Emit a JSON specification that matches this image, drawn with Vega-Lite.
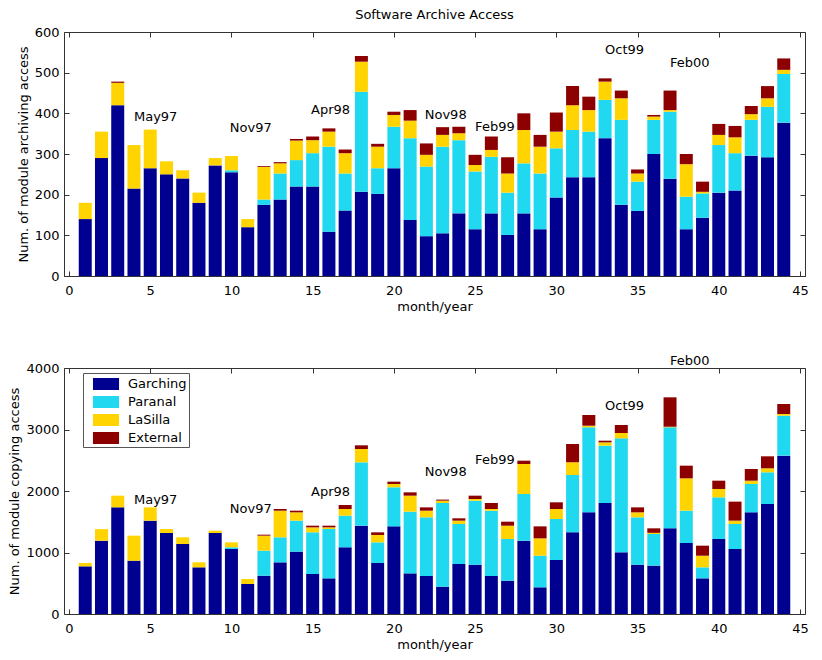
{
  "$schema": "https://vega.github.io/schema/vega-lite/v6.json",
  "padding": {"left": 8, "top": 8, "right": 10, "bottom": 5},
  "background": "white",
  "config": {
    "font": "DejaVu Sans",
    "view": {"stroke": "#333", "strokeWidth": 1},
    "axis": {
      "labelFont": "DejaVu Sans", "labelFontSize": 13, "labelColor": "#000",
      "titleFont": "DejaVu Sans", "titleFontSize": 13, "titleFontWeight": "normal", "titleColor": "#000",
      "domain": false, "grid": false, "tickColor": "#333", "tickSize": -5
    },
    "axisX": {"labelPadding": 13, "titlePadding": 3},
    "axisY": {"labelPadding": 10, "titlePadding": 4},
    "legend": {"labelFont": "DejaVu Sans", "labelFontSize": 13, "labelColor": "#000"}
  },
  "datasets": {
    "rank": [
      {"site": "Garching", "rank": 1},
      {"site": "Paranal", "rank": 2},
      {"site": "LaSilla", "rank": 3},
      {"site": "External", "rank": 4}
    ],
    "archive": [
      {"m": 1, "Garching": 140, "Paranal": 0, "LaSilla": 40, "External": 0},
      {"m": 2, "Garching": 290, "Paranal": 0, "LaSilla": 65, "External": 0},
      {"m": 3, "Garching": 420, "Paranal": 0, "LaSilla": 55, "External": 3},
      {"m": 4, "Garching": 215, "Paranal": 0, "LaSilla": 107, "External": 0},
      {"m": 5, "Garching": 265, "Paranal": 0, "LaSilla": 95, "External": 0},
      {"m": 6, "Garching": 250, "Paranal": 0, "LaSilla": 32, "External": 0},
      {"m": 7, "Garching": 240, "Paranal": 0, "LaSilla": 20, "External": 0},
      {"m": 8, "Garching": 180, "Paranal": 0, "LaSilla": 25, "External": 0},
      {"m": 9, "Garching": 272, "Paranal": 0, "LaSilla": 18, "External": 0},
      {"m": 10, "Garching": 255, "Paranal": 5, "LaSilla": 35, "External": 0},
      {"m": 11, "Garching": 120, "Paranal": 0, "LaSilla": 20, "External": 0},
      {"m": 12, "Garching": 175, "Paranal": 13, "LaSilla": 80, "External": 2},
      {"m": 13, "Garching": 188, "Paranal": 64, "LaSilla": 25, "External": 3},
      {"m": 14, "Garching": 220, "Paranal": 65, "LaSilla": 48, "External": 4},
      {"m": 15, "Garching": 220, "Paranal": 82, "LaSilla": 32, "External": 9},
      {"m": 16, "Garching": 109, "Paranal": 209, "LaSilla": 37, "External": 8},
      {"m": 17, "Garching": 161, "Paranal": 91, "LaSilla": 50, "External": 9},
      {"m": 18, "Garching": 207, "Paranal": 246, "LaSilla": 74, "External": 14},
      {"m": 19, "Garching": 202, "Paranal": 63, "LaSilla": 53, "External": 7},
      {"m": 20, "Garching": 265, "Paranal": 102, "LaSilla": 29, "External": 8},
      {"m": 21, "Garching": 138, "Paranal": 201, "LaSilla": 43, "External": 26},
      {"m": 22, "Garching": 98, "Paranal": 171, "LaSilla": 29, "External": 28},
      {"m": 23, "Garching": 105, "Paranal": 213, "LaSilla": 29, "External": 19},
      {"m": 24, "Garching": 154, "Paranal": 180, "LaSilla": 17, "External": 16},
      {"m": 25, "Garching": 115, "Paranal": 142, "LaSilla": 16, "External": 25},
      {"m": 26, "Garching": 154, "Paranal": 139, "LaSilla": 17, "External": 33},
      {"m": 27, "Garching": 101, "Paranal": 104, "LaSilla": 47, "External": 40},
      {"m": 28, "Garching": 154, "Paranal": 123, "LaSilla": 82, "External": 41},
      {"m": 29, "Garching": 115, "Paranal": 137, "LaSilla": 66, "External": 29},
      {"m": 30, "Garching": 193, "Paranal": 121, "LaSilla": 41, "External": 47},
      {"m": 31, "Garching": 243, "Paranal": 116, "LaSilla": 61, "External": 47},
      {"m": 32, "Garching": 243, "Paranal": 112, "LaSilla": 53, "External": 33},
      {"m": 33, "Garching": 339, "Paranal": 94, "LaSilla": 45, "External": 8},
      {"m": 34, "Garching": 175, "Paranal": 209, "LaSilla": 53, "External": 19},
      {"m": 35, "Garching": 160, "Paranal": 72, "LaSilla": 20, "External": 10},
      {"m": 36, "Garching": 300, "Paranal": 84, "LaSilla": 8, "External": 4},
      {"m": 37, "Garching": 239, "Paranal": 165, "LaSilla": 4, "External": 48},
      {"m": 38, "Garching": 115, "Paranal": 80, "LaSilla": 80, "External": 25},
      {"m": 39, "Garching": 143, "Paranal": 60, "LaSilla": 4, "External": 25},
      {"m": 40, "Garching": 205, "Paranal": 117, "LaSilla": 25, "External": 27},
      {"m": 41, "Garching": 210, "Paranal": 92, "LaSilla": 39, "External": 28},
      {"m": 42, "Garching": 296, "Paranal": 88, "LaSilla": 14, "External": 20},
      {"m": 43, "Garching": 292, "Paranal": 124, "LaSilla": 21, "External": 30},
      {"m": 44, "Garching": 377, "Paranal": 120, "LaSilla": 10, "External": 28}
    ],
    "copying": [
      {"m": 1, "Garching": 775, "Paranal": 0, "LaSilla": 55, "External": 0},
      {"m": 2, "Garching": 1192, "Paranal": 0, "LaSilla": 188, "External": 0},
      {"m": 3, "Garching": 1734, "Paranal": 0, "LaSilla": 190, "External": 0},
      {"m": 4, "Garching": 867, "Paranal": 0, "LaSilla": 407, "External": 0},
      {"m": 5, "Garching": 1518, "Paranal": 0, "LaSilla": 216, "External": 0},
      {"m": 6, "Garching": 1317, "Paranal": 0, "LaSilla": 65, "External": 0},
      {"m": 7, "Garching": 1138, "Paranal": 0, "LaSilla": 109, "External": 0},
      {"m": 8, "Garching": 759, "Paranal": 0, "LaSilla": 81, "External": 0},
      {"m": 9, "Garching": 1317, "Paranal": 0, "LaSilla": 38, "External": 0},
      {"m": 10, "Garching": 1057, "Paranal": 28, "LaSilla": 80, "External": 0},
      {"m": 11, "Garching": 488, "Paranal": 0, "LaSilla": 81, "External": 0},
      {"m": 12, "Garching": 623, "Paranal": 407, "LaSilla": 244, "External": 16},
      {"m": 13, "Garching": 840, "Paranal": 407, "LaSilla": 433, "External": 27},
      {"m": 14, "Garching": 1014, "Paranal": 504, "LaSilla": 135, "External": 27},
      {"m": 15, "Garching": 650, "Paranal": 678, "LaSilla": 81, "External": 27},
      {"m": 16, "Garching": 580, "Paranal": 802, "LaSilla": 27, "External": 27},
      {"m": 17, "Garching": 1084, "Paranal": 515, "LaSilla": 108, "External": 65},
      {"m": 18, "Garching": 1436, "Paranal": 1030, "LaSilla": 217, "External": 60},
      {"m": 19, "Garching": 829, "Paranal": 336, "LaSilla": 120, "External": 43},
      {"m": 20, "Garching": 1425, "Paranal": 635, "LaSilla": 54, "External": 38},
      {"m": 21, "Garching": 661, "Paranal": 1003, "LaSilla": 260, "External": 54},
      {"m": 22, "Garching": 618, "Paranal": 954, "LaSilla": 108, "External": 54},
      {"m": 23, "Garching": 444, "Paranal": 1361, "LaSilla": 38, "External": 17},
      {"m": 24, "Garching": 813, "Paranal": 650, "LaSilla": 55, "External": 38},
      {"m": 25, "Garching": 802, "Paranal": 1041, "LaSilla": 27, "External": 54},
      {"m": 26, "Garching": 618, "Paranal": 1062, "LaSilla": 27, "External": 98},
      {"m": 27, "Garching": 542, "Paranal": 678, "LaSilla": 216, "External": 65},
      {"m": 28, "Garching": 1192, "Paranal": 759, "LaSilla": 488, "External": 54},
      {"m": 29, "Garching": 434, "Paranal": 514, "LaSilla": 282, "External": 195},
      {"m": 30, "Garching": 878, "Paranal": 667, "LaSilla": 162, "External": 109},
      {"m": 31, "Garching": 1328, "Paranal": 932, "LaSilla": 206, "External": 298},
      {"m": 32, "Garching": 1653, "Paranal": 1382, "LaSilla": 27, "External": 174},
      {"m": 33, "Garching": 1805, "Paranal": 932, "LaSilla": 54, "External": 27},
      {"m": 34, "Garching": 1003, "Paranal": 1853, "LaSilla": 87, "External": 130},
      {"m": 35, "Garching": 802, "Paranal": 770, "LaSilla": 81, "External": 81},
      {"m": 36, "Garching": 786, "Paranal": 515, "LaSilla": 19, "External": 73},
      {"m": 37, "Garching": 1393, "Paranal": 1642, "LaSilla": 10, "External": 478},
      {"m": 38, "Garching": 1154, "Paranal": 526, "LaSilla": 526, "External": 206},
      {"m": 39, "Garching": 580, "Paranal": 179, "LaSilla": 189, "External": 163},
      {"m": 40, "Garching": 1220, "Paranal": 677, "LaSilla": 136, "External": 135},
      {"m": 41, "Garching": 1057, "Paranal": 406, "LaSilla": 55, "External": 309},
      {"m": 42, "Garching": 1653, "Paranal": 461, "LaSilla": 54, "External": 190},
      {"m": 43, "Garching": 1789, "Paranal": 515, "LaSilla": 65, "External": 195},
      {"m": 44, "Garching": 2575, "Paranal": 650, "LaSilla": 27, "External": 163}
    ],
    "notesArchive": [
      {"label": "May97", "x": 4.0, "y": 392},
      {"label": "Nov97", "x": 9.9, "y": 364},
      {"label": "Apr98", "x": 14.9, "y": 408},
      {"label": "Nov98", "x": 21.9, "y": 395},
      {"label": "Feb99", "x": 25.0, "y": 367},
      {"label": "Oct99", "x": 33.0, "y": 555},
      {"label": "Feb00", "x": 37.0, "y": 523}
    ],
    "notesCopying": [
      {"label": "May97", "x": 4.0, "y": 1854},
      {"label": "Nov97", "x": 9.9, "y": 1707},
      {"label": "Apr98", "x": 14.9, "y": 1984},
      {"label": "Nov98", "x": 21.9, "y": 2309},
      {"label": "Feb99", "x": 25.0, "y": 2504},
      {"label": "Oct99", "x": 33.0, "y": 3382},
      {"label": "Feb00", "x": 37.0, "y": 4114}
    ]
  },
  "spacing": 40,
  "resolve": {"scale": {"color": "independent"}},
  "vconcat": [
    {
      "title": {"text": "Software Archive Access", "font": "DejaVu Sans", "fontSize": 13, "fontWeight": "normal", "color": "#000", "anchor": "middle", "offset": 4},
      "width": 741,
      "height": 244,
      "resolve": {"axis": {"x": "independent", "y": "independent"}},
      "layer": [
        {
          "data": {"name": "archive"},
          "transform": [
            {"fold": ["Garching", "Paranal", "LaSilla", "External"], "as": ["site", "value"]},
            {"lookup": "site", "from": {"data": {"name": "rank"}, "key": "site", "fields": ["rank"]}}
          ],
          "mark": {"type": "bar", "size": 13},
          "encoding": {
            "x": {"field": "m", "type": "quantitative", "title": "month/year", "scale": {"domain": [0, 45], "nice": false},
                  "axis": {"values": [0, 5, 10, 15, 20, 25, 30, 35, 40, 45]}},
            "y": {"field": "value", "type": "quantitative", "title": "Num. of module archiving access", "stack": "zero", "scale": {"domain": [0, 600], "nice": false},
                  "axis": {"values": [0, 100, 200, 300, 400, 500, 600], "format": "d"}},
            "color": {"field": "site", "type": "nominal",
                      "scale": {"domain": ["Garching", "Paranal", "LaSilla", "External"], "range": ["#000090", "#20D8F0", "#FFD400", "#8C0000"]},
                      "legend": null},
            "order": {"field": "rank", "type": "quantitative"}
          }
        },
        {
          "data": {"name": "notesArchive"},
          "mark": {"type": "text", "align": "left", "baseline": "middle", "font": "DejaVu Sans", "fontSize": 13, "color": "#000"},
          "encoding": {
            "x": {"field": "x", "type": "quantitative", "axis": {"orient": "top", "labels": false, "title": null, "values": [0, 5, 10, 15, 20, 25, 30, 35, 40, 45]}},
            "y": {"field": "y", "type": "quantitative", "axis": {"orient": "right", "labels": false, "title": null, "values": [0, 100, 200, 300, 400, 500, 600]}},
            "text": {"field": "label"}
          }
        }
      ]
    },
    {
      "width": 741,
      "height": 246,
      "resolve": {"axis": {"x": "independent", "y": "independent"}},
      "layer": [
        {
          "data": {"name": "copying"},
          "transform": [
            {"fold": ["Garching", "Paranal", "LaSilla", "External"], "as": ["site", "value"]},
            {"lookup": "site", "from": {"data": {"name": "rank"}, "key": "site", "fields": ["rank"]}}
          ],
          "mark": {"type": "bar", "size": 13},
          "encoding": {
            "x": {"field": "m", "type": "quantitative", "title": "month/year", "scale": {"domain": [0, 45], "nice": false},
                  "axis": {"values": [0, 5, 10, 15, 20, 25, 30, 35, 40, 45]}},
            "y": {"field": "value", "type": "quantitative", "title": "Num. of module copying access", "stack": "zero", "scale": {"domain": [0, 4000], "nice": false},
                  "axis": {"values": [0, 1000, 2000, 3000, 4000], "format": "d"}},
            "color": {"field": "site", "type": "nominal",
                      "scale": {"domain": ["Garching", "Paranal", "LaSilla", "External"], "range": ["#000090", "#20D8F0", "#FFD400", "#8C0000"]},
                      "legend": {"title": null, "orient": "none", "legendX": 19, "legendY": 5,
                                 "fillColor": "white", "strokeColor": "#555", "padding": 2,
                                 "symbolType": "M-1.45,-0.67H1.45V0.67H-1.45Z", "symbolSize": 324, "symbolStrokeWidth": 0,
                                 "symbolOpacity": 1, "symbolOffset": 12, "labelOffset": 13, "rowPadding": 2}},
            "order": {"field": "rank", "type": "quantitative"}
          }
        },
        {
          "data": {"name": "notesCopying"},
          "mark": {"type": "text", "align": "left", "baseline": "middle", "font": "DejaVu Sans", "fontSize": 13, "color": "#000"},
          "encoding": {
            "x": {"field": "x", "type": "quantitative", "axis": {"orient": "top", "labels": false, "title": null, "values": [0, 5, 10, 15, 20, 25, 30, 35, 40, 45]}},
            "y": {"field": "y", "type": "quantitative", "axis": {"orient": "right", "labels": false, "title": null, "values": [0, 1000, 2000, 3000, 4000]}},
            "text": {"field": "label"}
          }
        }
      ]
    }
  ]
}
